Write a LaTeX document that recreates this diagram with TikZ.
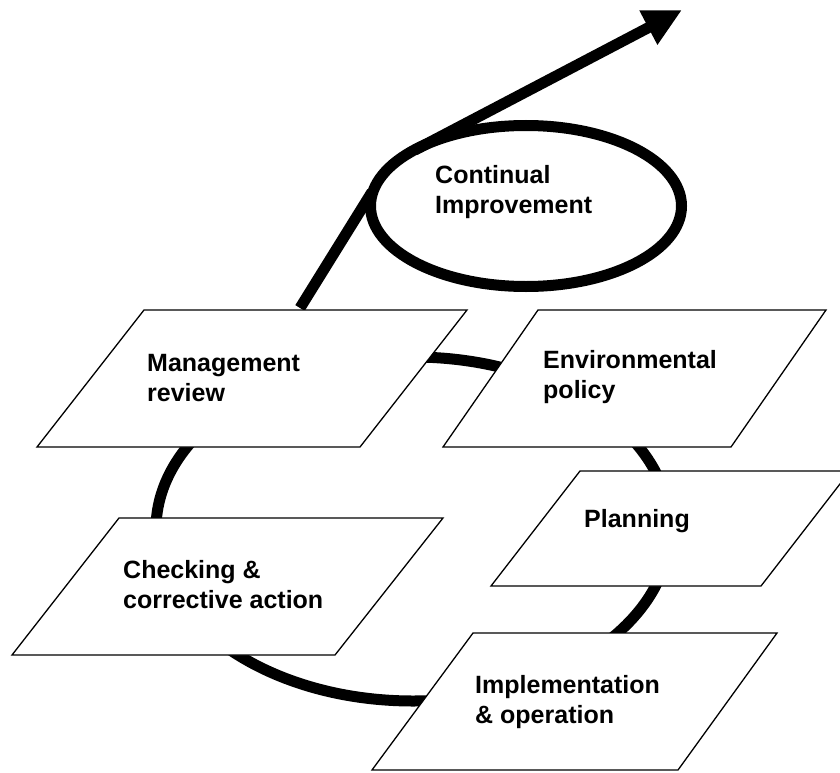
\documentclass[tikz,border=0pt]{standalone}
\usepackage{fontspec}
\setmainfont{Liberation Sans}
\usetikzlibrary{arrows.meta,shapes.geometric}
\tikzset{
  para/.style={draw=black, line width=1.3pt, fill=white, line join=miter},
  lbl/.style={anchor=base west, align=left, inner sep=0pt,
    font=\bfseries\fontsize{25}{30}\selectfont},
  loopline/.style={draw=black, line width=11pt},
  ciell/.style={ellipse, draw=black, line width=11pt, inner sep=0pt,
    minimum width=311pt, minimum height=161pt},
  bigarrow/.style={draw=black, line width=11pt, -{Triangle[length=38pt,width=36pt]}}
}
\begin{document}
\begin{tikzpicture}[x=1pt,y=-1pt]
\useasboundingbox (0,0) rectangle (840,773);
\clip (0,0) rectangle (840,773);
\fill[white] (0,0) rectangle (840,773);

% cycle loop behind the boxes
\draw[loopline] (413,529) ellipse [x radius=257, y radius=172];

% arrow towards continual improvement
\coordinate (astart) at (300,308);
\coordinate (ajoin) at (372,192);
\coordinate (aleave) at (415,150);
\coordinate (atip) at (682,10);
\draw[loopline] (astart) -- (ajoin);
\draw[bigarrow] (aleave) -- (atip);
\node[ciell] (ci) at (526,206) {};
\node[lbl] (citext) at (435,213) {Continual\\Improvement};

% boxes
\draw[para] (144,310) -- (467,310) -- (360,447) -- (37,447) -- cycle;
\node[lbl] (mgmt) at (147,401) {Management\\review};

\draw[para] (538,310) -- (826,310) -- (731,447) -- (443,447) -- cycle;
\node[lbl] (env) at (543,398) {Environmental\\policy};

\draw[para] (580,471) -- (850,471) -- (761,586) -- (491,586) -- cycle;
\node[lbl] (plan) at (584,527) {Planning};

\draw[para] (119,518) -- (443,518) -- (335,655) -- (12,655) -- cycle;
\node[lbl] (check) at (123,608) {Checking \&\\corrective action};

\draw[para] (473,633) -- (777,633) -- (678,770) -- (372,770) -- cycle;
\node[lbl] (impl) at (475,723) {Implementation\\\& operation};
\end{tikzpicture}
\end{document}
